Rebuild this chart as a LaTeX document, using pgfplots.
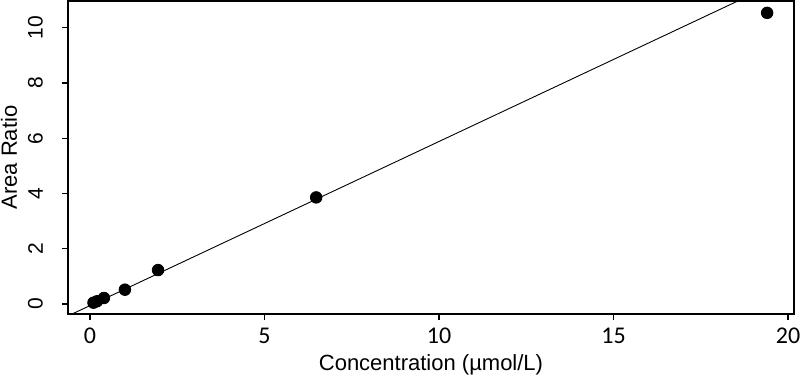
\documentclass[border=0pt]{standalone}
\usepackage{pgfplots}
\pgfplotsset{compat=1.18}
\usepackage{fontspec}
\setmainfont{Liberation Sans}
\newfontfamily\calfont{Carlito}
\begin{document}
\begin{tikzpicture}
\begin{axis}[
  name=ax, at={(0,0)}, anchor=south west,
  scale only axis, width=363pt, height=156.5pt,
  xmin=-0.63, xmax=20.17, ymin=-0.36, ymax=10.97,
  xtick={0,5,10,15,20}, ytick={0,2,4,6,8,10},
  tick align=outside, tick pos=left,
  major tick length=3pt,
  /pgf/number format/assume math mode=true,
  x tick label style={font=\calfont\fontsize{12}{14}\selectfont},
  xticklabel shift=0.5pt,
  y tick label style={font=\fontsize{10.5}{12}\selectfont, rotate=90, anchor=south},
  yticklabel shift=6pt,
  xlabel={Concentration (µmol/L)},
  ylabel={Area Ratio},
  label style={font=\fontsize{11}{13}\selectfont},
  xlabel style={at={(axis description cs:0.5,0)}, anchor=center, yshift=-25.5pt},
  ylabel style={at={(axis description cs:0,0.5)}, anchor=center, yshift=29.5pt},
  axis line style={black, line width=0.6pt},
  tick style={black, line width=0.6pt},
  clip=true,
]
\addplot[black, line width=0.45pt] coordinates {(-1,-0.650) (20,11.824)};
\addplot[only marks, mark=*, mark size=2.9pt, black] coordinates {
(0.1,0.05) (0.2,0.10) (0.4,0.22) (1.0,0.52) (1.95,1.23) (6.48,3.86) (19.4,10.54)};
\end{axis}
\pgfresetboundingbox
\path (ax.south west) ++(-34pt,-32pt) coordinate (bl);
\path (ax.north east) ++(3pt,0.5pt) coordinate (tr);
\useasboundingbox (bl) rectangle (tr);
\end{tikzpicture}
\end{document}
